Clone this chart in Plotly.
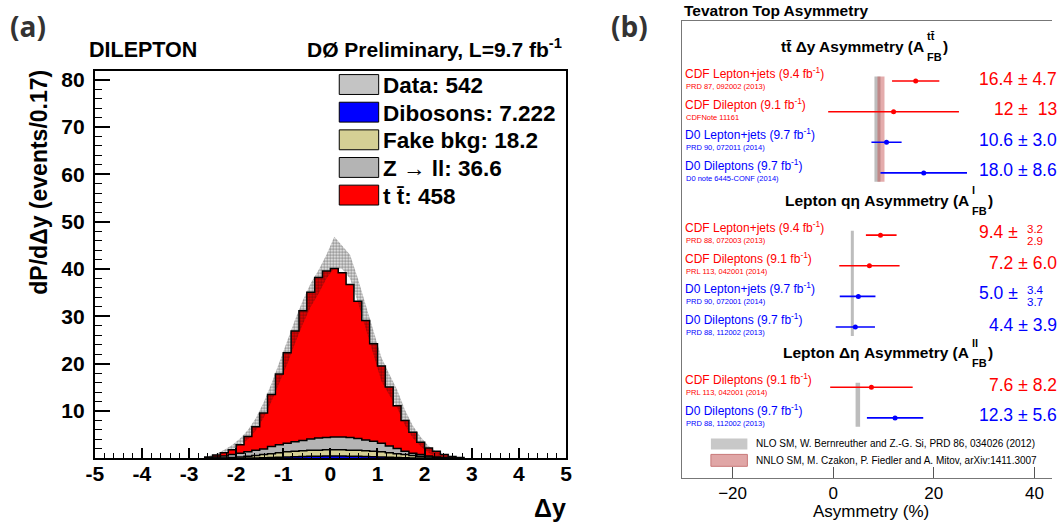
import numpy as np
import plotly.graph_objects as go

W, H = 1058, 522

# ---------------- panel (a): dilepton delta-y histogram ----------------
bin_width = 1.0 / 6.0
first_bin = -16          # left edge of first bin = first_bin * bin_width

tt_vals = [0.2, 0.4, 0.7, 1.0, 1.8, 3.2, 5.0, 7.6, 11.0, 14.9, 19.1, 23.4, 27.4, 31.0, 33.9, 35.2,
           35.6, 34.7, 32.3, 29.0, 25.2, 20.6, 16.3, 12.5, 9.0, 6.5, 4.4, 2.6, 1.7, 1.2, 0.6, 0.3, 0.15]
z_vals = [0.08, 0.25, 0.4, 0.6, 0.8, 0.95, 1.1, 1.2, 1.5, 1.7, 1.8, 2.0, 2.2, 2.4, 2.6, 2.6,
          2.7, 2.7, 2.7, 2.5, 2.3, 2.1, 1.8, 1.4, 1.1, 0.7, 0.5, 0.35, 0.2, 0.1, 0.1, 0.05, 0.03]
fake_vals = [0.02, 0.04, 0.08, 0.17, 0.25, 0.37, 0.5, 0.65, 0.8, 0.95, 1.1, 1.15, 1.2, 1.25, 1.25, 1.3,
             1.3, 1.3, 1.25, 1.25, 1.2, 1.15, 1.1, 0.95, 0.8, 0.65, 0.5, 0.37, 0.25, 0.17, 0.08, 0.04, 0.02]
dib_vals = [0.0, 0.01, 0.02, 0.03, 0.05, 0.08, 0.1, 0.15, 0.2, 0.25, 0.3, 0.35, 0.4, 0.45, 0.45, 0.5,
            0.5, 0.5, 0.45, 0.45, 0.4, 0.35, 0.3, 0.25, 0.2, 0.15, 0.1, 0.08, 0.05, 0.03, 0.02, 0.01, 0.0]
data_vals = [0.2, 0.7, 1.5, 2.3, 3.5, 5.0, 7.2, 10.2, 13.9, 18.1, 22.4, 26.8, 30.9, 34.5, 37.3, 40.5,
             43.5, 42.5, 40.5, 35.5, 29.8, 24.0, 18.8, 15.6, 12.6, 8.6, 5.6, 3.5, 1.9, 0.9, 0.5, 0.1, 0.0]
data_err = [0.3, 0.3, 0.3, 0.5, 0.7, 1.0, 1.3, 1.6, 1.9, 2.2, 2.5, 2.5, 2.5, 2.5, 2.5, 2.5,
            3.3, 2.5, 2.5, 2.5, 2.5, 2.5, 2.5, 2.2, 1.9, 1.6, 1.3, 1.0, 0.7, 0.5, 0.3, 0.3, 0.2]

legend_names = ["Data", "Dibosons", "Fake bkg", "Z \u2192 ll", "t t\u0304"]
legend_yields = ["542", "7.222", "18.2", "36.6", "458"]
legend_colors = ["#c4c4c4", "#0000ff", "#d5d095", "#b4b4b4", "#ff0000"]

x_tick_vals = [-5, -4, -3, -2, -1, 0, 1, 2, 3, 4, 5]
x_tick_text = ["-5", "-4", "-3", "-2", "-1", "0", "1", "2", "3", "4", "5"]
y_tick_vals = [10, 20, 30, 40, 50, 60, 70, 80]

# ---------------- panel (b): Tevatron asymmetry summary ----------------
section_titles = ["tt\u0304 \u0394y Asymmetry (A", "Lepton q\u03b7 Asymmetry (A", "Lepton \u0394\u03b7 Asymmetry (A"]
section_sup = ["tt\u0304", "l", "ll"]
meas_section = [0, 0, 0, 0, 1, 1, 1, 1, 2, 2]
meas_exp = ["CDF", "CDF", "D0", "D0", "CDF", "CDF", "D0", "D0", "CDF", "D0"]
meas_label = ["CDF Lepton+jets (9.4 fb<sup>-1</sup>)", "CDF Dilepton (9.1 fb<sup>-1</sup>)",
              "D0 Lepton+jets (9.7 fb<sup>-1</sup>)", "D0 Dileptons (9.7 fb<sup>-1</sup>)",
              "CDF Lepton+jets (9.4 fb<sup>-1</sup>)", "CDF Dileptons (9.1 fb<sup>-1</sup>)",
              "D0 Lepton+jets (9.7 fb<sup>-1</sup>)", "D0 Dileptons (9.7 fb<sup>-1</sup>)",
              "CDF Dileptons (9.1 fb<sup>-1</sup>)", "D0 Dileptons (9.7 fb<sup>-1</sup>)"]
meas_ref = ["PRD 87, 092002 (2013)", "CDFNote 11161", "PRD 90, 072011 (2014)", "D0 note 6445-CONF (2014)",
            "PRD 88, 072003 (2013)", "PRL 113, 042001 (2014)", "PRD 90, 072001 (2014)", "PRD 88, 112002 (2013)",
            "PRL 113, 042001 (2014)", "PRD 88, 112002 (2013)"]
meas_val = [16.4, 12.0, 10.6, 18.0, 9.4, 7.2, 5.0, 4.4, 7.6, 12.3]
meas_err_up = [4.7, 13.0, 3.0, 8.6, 3.2, 6.0, 3.4, 3.9, 8.2, 5.6]
meas_err_dn = [4.7, 13.0, 3.0, 8.6, 2.9, 6.0, 3.7, 3.9, 8.2, 5.6]
val_str = ["16.4", "12", "10.6", "18.0", "9.4", "7.2", "5.0", "4.4", "7.6", "12.3"]
up_str = ["4.7", "\u00a013", "3.0", "8.6", "3.2", "6.0", "3.4", "3.9", "8.2", "5.6"]
dn_str = ["4.7", "\u00a013", "3.0", "8.6", "2.9", "6.0", "3.7", "3.9", "8.2", "5.6"]

nlo_val = [8.8, 3.8, 4.9]
nlo_err = [0.6, 0.3, 0.45]
nnlo_val = [9.5]
nnlo_err = [0.7]
theory_legend = ["NLO SM, W. Bernreuther and Z.-G. Si, PRD 86, 034026 (2012)",
                 "NNLO SM, M. Czakon, P. Fiedler and A. Mitov, arXiv:1411.3007"]
b_tick_vals = [-20, 0, 20, 40]

exp_color = {"CDF": "#ff0000", "D0": "#0000ff"}

# ---------------- helpers (layout positions in pixels -> paper) ----------------
def P(px):
    return px / W

def Q(py):
    return 1 - py / H

FONT = "Liberation Sans"

fig = go.Figure()

# ---- stacked MC histograms (cumulative) ----
n = len(tt_vals)
edges = first_bin * bin_width + bin_width * np.arange(n + 1)
centers = edges[:-1] + bin_width / 2
dib = np.array(dib_vals)
lvl_fake = dib + np.array(fake_vals)
lvl_z = lvl_fake + np.array(z_vals)
lvl_tt = lvl_z + np.array(tt_vals)

def step_xy(v):
    xs = np.concatenate([[edges[0]], edges])
    ys = np.concatenate([[0.0], v, [0.0]])
    return xs, ys

for lvl, col in [(lvl_tt, legend_colors[4]), (lvl_z, legend_colors[3]),
                 (lvl_fake, legend_colors[2]), (dib, legend_colors[1])]:
    xs, ys = step_xy(lvl)
    fig.add_trace(go.Scatter(x=xs, y=ys, mode="lines", line=dict(shape="hv", color="black", width=1.5),
                             fill="tozeroy", fillcolor=col, hoverinfo="skip", showlegend=False,
                             xaxis="x", yaxis="y"))

# ---- data band ----
d = np.array(data_vals)
e = np.array(data_err)
lo = np.clip(d - e, 0, None)
hi = d + e
fig.add_trace(go.Scatter(x=centers, y=lo, mode="lines", line=dict(width=0, color="rgba(0,0,0,0)"),
                         hoverinfo="skip", showlegend=False, xaxis="x", yaxis="y"))
fig.add_trace(go.Scatter(x=centers, y=hi, mode="lines", line=dict(width=0, color="rgba(0,0,0,0)"),
                         fill="tonexty", fillcolor="rgba(0,0,0,0)",
                         fillpattern=dict(shape=".", fgcolor="#111111", bgcolor="rgba(0,0,0,0)",
                                          size=3, solidity=0.6),
                         hoverinfo="skip", showlegend=False, xaxis="x", yaxis="y"))

# ---- panel (b) theory bands ----
sec_title_y = [44, 199, 352]
row_y = []
counters = [0, 0, 0]
for s in meas_section:
    row_y.append(sec_title_y[s] + 34.5 + 30.8 * counters[s])
    counters[s] += 1

shapes = []
for s in range(3):
    ys = [row_y[i] for i in range(len(row_y)) if meas_section[i] == s]
    y0, y1 = min(ys) - 4.5, max(ys) + 9
    shapes.append(dict(type="rect", xref="x2", yref="y2", x0=nlo_val[s] - nlo_err[s], x1=nlo_val[s] + nlo_err[s],
                       y0=y0, y1=y1, fillcolor="#bdbdbd", line=dict(width=0), layer="below"))
    if s < len(nnlo_val):
        shapes.append(dict(type="rect", xref="x2", yref="y2", x0=nnlo_val[s] - nnlo_err[s],
                           x1=nnlo_val[s] + nnlo_err[s], y0=y0, y1=y1,
                           fillcolor="rgba(196,70,70,0.45)", line=dict(width=0), layer="below"))

# ---- panel (b) measurements ----
for exp in ["CDF", "D0"]:
    idx = [i for i in range(len(meas_val)) if meas_exp[i] == exp]
    fig.add_trace(go.Scatter(
        x=[meas_val[i] for i in idx], y=[row_y[i] for i in idx], mode="markers",
        marker=dict(color=exp_color[exp], size=5),
        error_x=dict(type="data", symmetric=False, array=[meas_err_up[i] for i in idx],
                     arrayminus=[meas_err_dn[i] for i in idx], color=exp_color[exp], thickness=1.6, width=0),
        hoverinfo="skip", showlegend=False, xaxis="x2", yaxis="y2"))

ann = []

def A(text, x, y, size, xanchor="left", yanchor="middle", color="black", bold=False, family=FONT, angle=0):
    ann.append(dict(text=text, x=P(x), y=Q(y), xref="paper", yref="paper", xanchor=xanchor, yanchor=yanchor,
                    showarrow=False, textangle=angle, borderpad=0,
                    font=dict(family=family, size=size, color=color, weight="bold" if bold else "normal")))

# panel (a) texts
A("(a)", 0, 23, 28, bold=True, color="#333333", family="Open Sans")
A("(b)", 610, 23, 28, bold=True, color="#333333", family="Open Sans")
A("DILEPTON", 80, 47, 21.5, bold=True)
A("D\u00d8 Preliminary, L=9.7 fb<sup>-1</sup>", 562, 45, 21, xanchor="right", bold=True)
A("dP/d\u0394y (events/0.17)", 31, 66, 23, xanchor="center", yanchor="top", bold=True, angle=-90)
A("\u0394y", 566, 508, 25, xanchor="right", bold=True)

# panel (a) legend
leg_y0 = 82
for i, (nm, yl, col) in enumerate(zip(legend_names, legend_yields, legend_colors)):
    yc = leg_y0 + 27.8 * i
    shapes.append(dict(type="rect", xref="paper", yref="paper", x0=P(335), x1=P(375), y0=Q(yc + 10), y1=Q(yc - 10),
                       fillcolor=col, line=dict(color="black", width=1)))
    A(f"{nm}: {yl}", 378, yc + 1, 22.5, bold=True)

# panel (b) texts
A("Tevatron Top Asymmetry", 684, 8, 15.5, bold=True)
sec_a_end = [929, 975, 975]
for s in range(3):
    ty = sec_title_y[s]
    a_end = sec_a_end[s]
    A(section_titles[s], a_end, ty, 15.5, xanchor="right", bold=True)
    A(section_sup[s], a_end + 1, ty - 10.5, 11, bold=True)
    A("FB", a_end + 1, ty + 10, 11, bold=True)
    A(")", a_end + 17, ty, 15.5, bold=True)

for i in range(len(meas_val)):
    col = exp_color[meas_exp[i]]
    yv = row_y[i]
    A(meas_label[i], 685, yv - 8, 12, color=col)
    A(meas_ref[i], 686, yv + 5.5, 7.5, color=col)
    if meas_err_up[i] == meas_err_dn[i]:
        A(f"{val_str[i]} \u00b1 {up_str[i]}", 1064, yv - 2.5, 17.5, xanchor="right", color=col)
    else:
        A(f"{val_str[i]} \u00b1", 1025, yv - 3, 17.5, xanchor="right", color=col)
        A(up_str[i], 1041, yv - 6.5, 11.5, xanchor="center", color=col)
        A(dn_str[i], 1041, yv + 5.5, 11.5, xanchor="center", color=col)

# theory legend
shapes.append(dict(type="rect", xref="paper", yref="paper", x0=P(712), x1=P(749), y0=Q(449), y1=Q(438),
                   fillcolor="#c8c8c8", line=dict(width=0)))
shapes.append(dict(type="rect", xref="paper", yref="paper", x0=P(712), x1=P(749), y0=Q(466), y1=Q(454),
                   fillcolor="#e0a6a6", line=dict(color="#c87878", width=1)))
A(theory_legend[0], 757, 443.5, 10)
A(theory_legend[1], 757, 460, 10)
A("Asymmetry (%)", 874, 511, 17, xanchor="center")

fig.update_layout(
    width=W, height=H, autosize=False,
    margin=dict(l=0, r=0, t=0, b=0),
    paper_bgcolor="white", plot_bgcolor="white",
    showlegend=False,
    shapes=shapes, annotations=ann,
    xaxis=dict(domain=[P(87), P(565)], anchor="y", range=[-5, 5], tickmode="array",
               tickvals=x_tick_vals, ticktext=x_tick_text, ticks="inside", ticklen=10, tickwidth=1.5,
               tickcolor="black", showline=True, linecolor="black", linewidth=2, mirror=True,
               showgrid=False, zeroline=False, layer="above traces", ticklabelstandoff=-5,
               minor=dict(ticks="inside", ticklen=5, tickwidth=1.2, tickcolor="black", tick0=0, dtick=0.2,
                          showgrid=False),
               tickfont=dict(family=FONT, size=21, color="black", weight="bold")),
    yaxis=dict(domain=[Q(458), Q(68)], anchor="x", range=[0, 81.9], tickmode="array",
               tickvals=y_tick_vals, ticks="inside", ticklen=15, tickwidth=1.5, tickcolor="black",
               showline=True, linecolor="black", linewidth=2, mirror=True, showgrid=False, zeroline=False,
               layer="above traces", ticklabelstandoff=4,
               minor=dict(ticks="inside", ticklen=7, tickwidth=1.2, tickcolor="black", tick0=0, dtick=2,
                          showgrid=False),
               tickfont=dict(family=FONT, size=21, color="black", weight="bold")),
    xaxis2=dict(domain=[P(683), 1.0], anchor="y2", range=[-30, 43.5], tickmode="array", tickvals=b_tick_vals,
                ticks="inside", ticklen=11, tickwidth=1, tickcolor="#555555", showline=True,
                linecolor="#777777", linewidth=1.2, mirror=True, showgrid=False, zeroline=False,
                ticklabelstandoff=-1, tickfont=dict(family=FONT, size=17, color="black")),
    yaxis2=dict(domain=[Q(478), Q(18)], anchor="x2", range=[478, 18], showticklabels=False, ticks="",
                showline=True, linecolor="#777777", linewidth=1.2, mirror=False, showgrid=False,
                zeroline=False),
)

fig.write_html("out.html", config={"displayModeBar": False},
               post_script="document.body.style.margin='0';document.body.style.overflow='hidden';")
